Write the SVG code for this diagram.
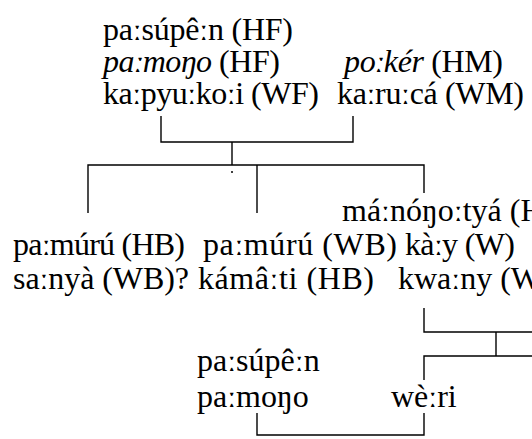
<svg xmlns="http://www.w3.org/2000/svg" width="532" height="439" viewBox="0 0 532 439">
<style>
text{font-family:"Liberation Serif","Times New Roman",serif;font-size:32px;fill:#000}
.it{font-style:italic}
.ln{fill:none;stroke:#000;stroke-width:1.4}
</style>
<rect width="532" height="439" fill="#fff"/>
<g id="connectors" class="ln">
<path d="M161,116V142H353V116"/>
<path d="M232,142V165"/>
<path d="M88,213V165H424V193"/>
<path d="M257,165V213"/>
<path d="M424,308V332H532"/>
<path d="M496,332V356"/>
<path d="M532,356H424V380"/>
<path d="M257,413V435H424V413"/>
</g>
<circle cx="232" cy="172" r="1" fill="#000"/>
<g id="husband-father">
<text x="103" y="40" textLength="190">paːsúpêːn (HF)</text>
<text x="103" y="72" textLength="177"><tspan class="it">paːmoŋo</tspan> (HF)</text>
</g>
<g id="husband-mother"><text x="344" y="72" textLength="159"><tspan class="it">poːkér</tspan> (HM)</text></g>
<g id="wife-father"><text x="103" y="104" textLength="216">kaːpyuːkoːi (WF)</text></g>
<g id="wife-mother"><text x="337" y="104" textLength="187">kaːruːcá (WM)</text></g>
<g id="husband-brother"><text x="13" y="255" textLength="172">paːmúrú (HB)</text></g>
<g id="wife-brother-1"><text x="13" y="289" textLength="176">saːnyà (WB)?</text></g>
<g id="wife-brother-2"><text x="203" y="255" textLength="194">paːmúrú (WB)</text></g>
<g id="husband-brother-2"><text x="198" y="289" textLength="176">kámâːti (HB)</text></g>
<g id="husband"><text x="342" y="221">máːnóŋoːtyá (H</text></g>
<g id="wife-1"><text x="405" y="255" textLength="110">kàːy (W)</text></g>
<g id="wife-2"><text x="398" y="289">kwaːny (W</text></g>
<g id="child-1">
<text x="197" y="371">paːsúpêːn</text>
<text x="197" y="407">paːmoŋo</text>
</g>
<g id="child-2"><text x="391" y="407">wèːri</text></g>
</svg>
